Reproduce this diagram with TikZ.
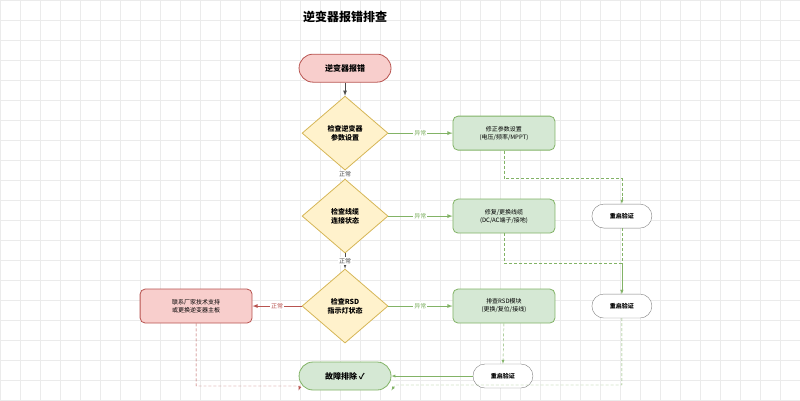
\documentclass[tikz,border=0pt]{standalone}
\usepackage{fontspec}
\setmainfont{Noto Sans CJK SC}
\usepackage{tikz}
\usetikzlibrary{shapes.geometric}
\definecolor{okfill}{HTML}{D5E8D4}\definecolor{okline}{HTML}{82B366}
\definecolor{chkfill}{HTML}{FFF2CC}\definecolor{chkline}{HTML}{D6B656}
\definecolor{errfill}{HTML}{F8CECC}\definecolor{errline}{HTML}{B85450}
\begin{document}
\begin{tikzpicture}[x=1pt,y=-1pt,
            check node/.style={diamond,aspect=1.2,draw=chkline,fill=chkfill,thick,inner sep=1pt,minimum width=86pt,minimum height=74pt,font=\fontsize{7}{9}\selectfont\bfseries,align=center},
            fix node/.style={rectangle,rounded corners=5pt,draw=okline,fill=okfill,thick,minimum width=102pt,minimum height=34pt,font=\fontsize{6}{8}\selectfont,align=center},
            pill node/.style={rectangle,rounded corners=14pt,thick,minimum width=92pt,minimum height=28pt,font=\fontsize{8}{10}\selectfont\bfseries},
            redo node/.style={rectangle,rounded corners=12pt,draw=gray,fill=white,minimum width=60pt,minimum height=24pt,font=\fontsize{6}{8}\selectfont\bfseries},
            main line/.style={thick,black!70,-latex},
            ok line/.style={thick,okline,-latex},
            err line/.style={thick,errline,-latex},
            loop line/.style={densely dashed,okline,-latex},
            edge text/.style={fill=white,inner sep=1pt,font=\fontsize{6}{7}\selectfont}
            ]
            \fill[white] (0,0) rectangle (800,400);
            \foreach \gx in {0,20,...,800} \draw[black!8] (\gx,0) -- (\gx,400);
            \foreach \gy in {0,20,...,400} \draw[black!8] (0,\gy) -- (800,\gy);
            \useasboundingbox (0,0) rectangle (800,400);

            \node[font=\fontsize{12}{14}\selectfont\bfseries] (title) at (345,17) {逆变器报错排查};

            \node[pill node, draw=errline, fill=errfill] (start) at (345,68) {逆变器报错};
            \node[check node] (c1) at (345,133) {检查逆变器\\参数设置};
            \node[check node] (c2) at (345,216) {检查线缆\\连接状态};
            \node[check node] (c3) at (345,306) {检查RSD\\指示灯状态};

            \node[fix node] (f1) at (504,133) {修正参数设置\\(电压/频率/MPPT)};
            \node[fix node] (f2) at (504,216) {修复/更换线缆\\(DC/AC端子/接地)};
            \node[fix node] (f3) at (504,306) {排查RSD模块\\(更换/复位/接线)};
            \node[fix node, draw=errline, fill=errfill, minimum width=112pt] (vendor) at (196,306) {联系厂家技术支持\\或更换逆变器主板};

            \node[redo node] (r1) at (622,216) {重启验证};
            \node[redo node] (r2) at (622,306) {重启验证};
            \node[redo node] (r3) at (503,376) {重启验证};
            \node[pill node, draw=okline, fill=okfill] (done) at (345,376) {故障排除 ✓};

            \draw[main line] (start) -- (c1);
            \draw[main line] (c1) -- node[edge text] {正常} (c2);
            \draw[main line] (c2) -- node[edge text] {正常} (c3);
            \draw[ok line] (c1) -- node[edge text, text=okline] {异常} (f1);
            \draw[ok line] (c2) -- node[edge text, text=okline] {异常} (f2);
            \draw[ok line] (c3) -- node[edge text, text=okline] {异常} (f3);
            \draw[err line] (c3) -- node[edge text, text=errline] {正常} (vendor);

            \draw[loop line] (f1.south) |- (622,178) -- (r1.north);
            \draw[loop line] (f2.south) |- (622,263) -- (r2.north);
            \draw[loop line] (r1.south) -- (r2.north);
            \draw[loop line] (f3.south) -- (r3.north);
            \draw[loop line] (r2.south) |- (395,385) -- (done.south east);
            \draw[ok line, thin] (r3.west) -- (done.east);
            \draw[densely dashed, errline, -latex] (vendor.south) |- (300,386) -- (done.south west);
        \end{tikzpicture}
\end{document}
